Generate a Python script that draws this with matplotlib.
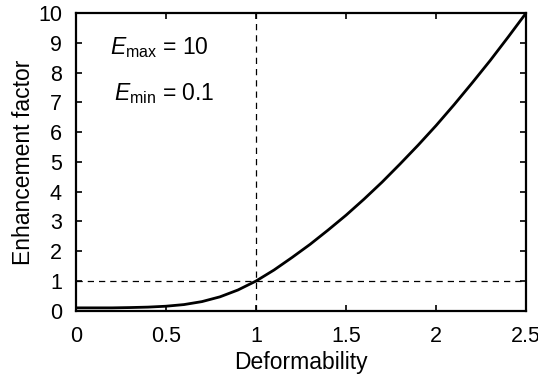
import matplotlib
matplotlib.use('Agg')
import matplotlib.pyplot as plt

# values
deformability = [0, 0.1, 0.2, 0.3, 0.4, 0.5, 0.6, 0.7, 0.8, 0.9, 1.0,
                 1.1, 1.2, 1.3, 1.4, 1.5, 1.6, 1.7, 1.8, 1.9, 2.0,
                 2.1, 2.2, 2.3, 2.4, 2.5]
enhancement = [0.10, 0.10, 0.10, 0.11, 0.125, 0.155, 0.21, 0.31, 0.47, 0.70, 1.0,
               1.37, 1.79, 2.23, 2.71, 3.21, 3.75, 4.32, 4.93, 5.56, 6.22,
               6.92, 7.65, 8.40, 9.19, 10.0]
x_ticks = [0, 0.5, 1, 1.5, 2, 2.5]
x_tick_labels = ['0', '0.5', '1', '1.5', '2', '2.5']
y_ticks = list(range(0, 11))

plt.rcParams['font.family'] = ['Liberation Sans', 'DejaVu Sans']
plt.rcParams['mathtext.fontset'] = 'custom'
plt.rcParams['mathtext.rm'] = 'Liberation Sans'
plt.rcParams['mathtext.it'] = 'Liberation Sans:italic'

fig = plt.figure(figsize=(5.38, 3.80), dpi=100)
ax = fig.add_axes([0.141, 0.182, 0.837, 0.784])

ax.plot(deformability, enhancement, color='black', lw=2.0, solid_joinstyle='round')
ax.axvline(1, color='black', lw=0.9, ls=(0, (5, 4)))
ax.axhline(1, color='black', lw=0.9, ls=(0, (5, 4)))

ax.set_xlim(0, 2.5)
ax.set_ylim(0, 10)
ax.set_xticks(x_ticks)
ax.set_xticklabels(x_tick_labels)
ax.set_yticks(y_ticks)
ax.tick_params(direction='in', length=4, width=1.2, top=True, right=True,
               labelsize=15.5)
ax.tick_params(axis='x', pad=11)
ax.tick_params(axis='y', pad=10)
for s in ax.spines.values():
    s.set_linewidth(1.6)

ax.set_xlabel('Deformability', fontsize=16.5, labelpad=3)
ax.set_ylabel('Enhancement factor', fontsize=16.5, labelpad=2)

ax.text(0.19, 8.83, r'$E_{\mathrm{max}}$ = 10', fontsize=16.5, va='center', ha='left')
ax.text(0.21, 7.28, r'$E_{\mathrm{min}}$ = 0.1', fontsize=16.5, va='center', ha='left')

fig.savefig('out.png', dpi=100)
plt.close(fig)
